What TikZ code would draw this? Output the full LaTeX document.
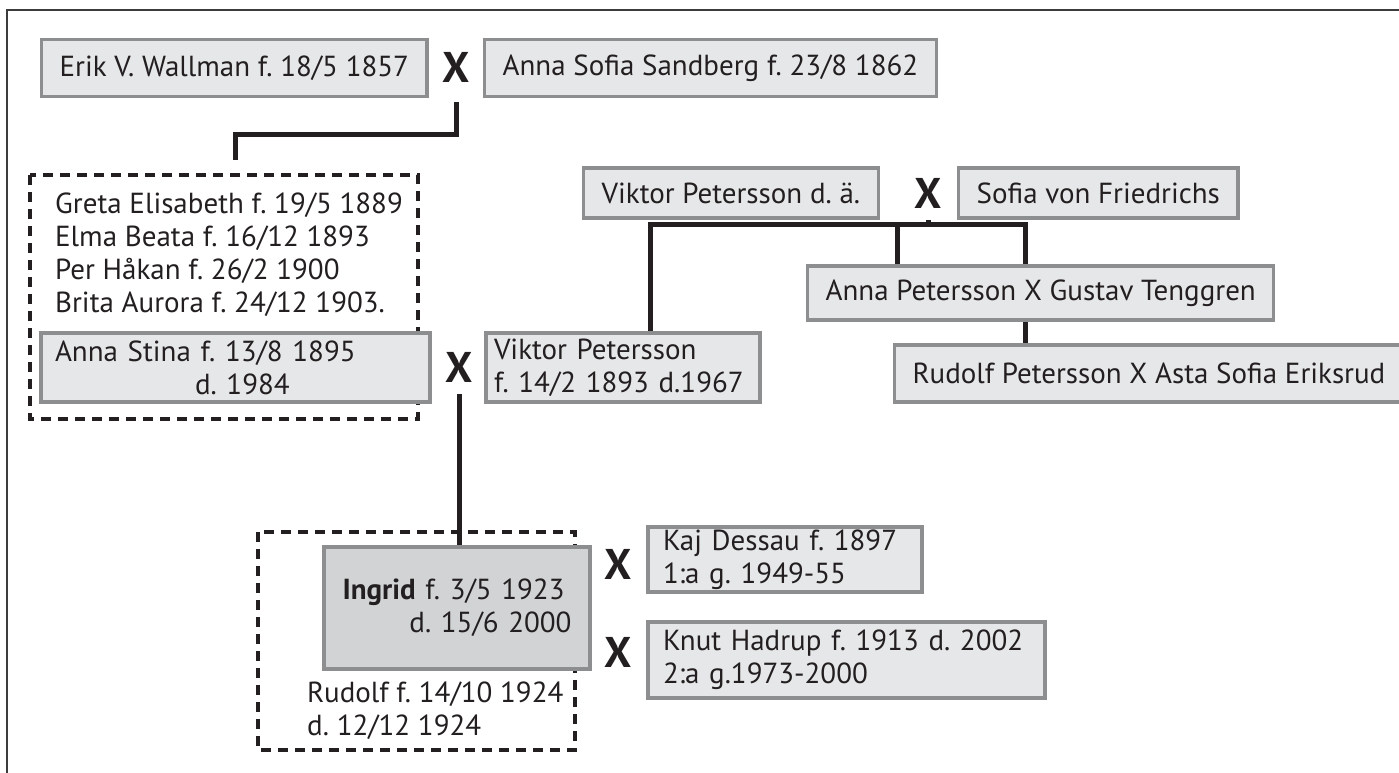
\documentclass[tikz,border=0pt]{standalone}
\usepackage{fontspec}
\setmainfont{PT Sans}
\usetikzlibrary{positioning}

\definecolor{boxfill}{HTML}{E6E7E8}
\definecolor{boxline}{HTML}{8C8E90}
\definecolor{selfill}{HTML}{D1D3D4}
\definecolor{ink}{HTML}{231F20}
\definecolor{framegray}{HTML}{3C3C3C}

\newcommand\namefont{\fontsize{29}{33}\selectfont\frenchspacing}
\newcommand\marryfont{\fontsize{43}{43}\selectfont\bfseries}

\begin{document}
\begin{tikzpicture}[x=1pt, y=-1pt,
        person/.style={draw=boxline, fill=boxfill, line width=3.3pt, inner xsep=18pt, inner ysep=0pt,
            font=\namefont, text=ink},
        marry/.style={font=\marryfont, text=ink, inner xsep=0pt, inner ysep=12pt},
        link/.style={draw=ink, line width=5pt},
        group/.style={draw=ink, line width=3.3pt, dash pattern=on 10pt off 7pt},
        kids/.style={font=\namefont, text=ink, align=left, anchor=north west, inner sep=0pt}
    ]
        \useasboundingbox (0,0) rectangle (1399,773);

        % frame (only top and left edge)
        \draw[framegray, line width=2pt] (1399,10) -- (7,10) -- (7,773);

        % Wallman couple
        \node[person, anchor=west, minimum height=57] (erik) at (40,68) {Erik V. Wallman f. 18/5 1857};
        \node[marry] (x1) at (456,67) {X};
        \node[person, anchor=west, minimum height=57] (annasofia) at (483,68) {Anna Sofia Sandberg f. 23/8 1862};

        % their children
        \draw[group] (30,175) rectangle (418,419);
        \node[kids] (greta) at (55,193) {Greta Elisabeth f. 19/5 1889\\Elma Beata f. 16/12 1893\\Per Håkan f. 26/2 1900\\Brita Aurora f. 24/12 1903.};
        \node[person, inner xsep=0pt, minimum width=389, minimum height=69, align=left, text width=361] (annastina) at (235.5,367.5)
            {Anna Stina f. 13/8 1895\\\hspace*{140pt}d. 1984};
        \coordinate (kids1) at (235,160);
        \draw[link] ([yshift=-8pt]x1.south) -- (x1.south |- 0,134) -| (kids1);

        % Petersson couple
        \node[person, anchor=west, minimum height=50] (viktorda) at (582,193) {Viktor Petersson d. ä.};
        \node[marry] (x3) at (928,193) {X};
        \node[person, anchor=west, minimum height=50] (sofia) at (957,193) {Sofia von Friedrichs};

        % their children
        \node[person, inner xsep=0pt, minimum width=274, minimum height=69, align=left, text width=258] (viktor) at (623,367.5)
            {Viktor Petersson\\f. 14/2 1893 d.1967};
        \node[person, anchor=west, minimum height=54] (annap) at (806,293) {Anna Petersson X Gustav Tenggren};
        \node[person, anchor=west, minimum height=57] (rudolfp) at (893,373.5) {Rudolf Petersson X Asta Sofia Eriksrud};
        \coordinate (bar3) at (928,224);
        \draw[link] (x3.south) -- (bar3);
        \draw[link] ([xshift=27pt]viktor.north) |- (bar3);
        \draw[link] (annap.north west -| 897,0) |- (bar3);
        \draw[link] (annap.north west -| 1025,0) |- (bar3);
        \draw[link] (annap.south west -| 1025,0) -- (rudolfp.north west -| 1025,0);

        % Anna Stina X Viktor
        \node[marry] (x2) at (459,367) {X};

        % their children
        \draw[group] (258,532) rectangle (575,750);
        \node[person, inner xsep=0pt, fill=selfill, minimum width=266, minimum height=122, align=left, text width=229] (ingrid) at (457,608)
            {\textbf{Ingrid} f. 3/5 1923\\\hspace*{\fill}d. 15/6 2000};
        \node[kids] (rudolf) at (307,682) {Rudolf f. 14/10 1924\\d. 12/12 1924};
        \draw[link] (x2.south) -- (x2.south |- ingrid.north);

        % Ingrid's marriages
        \node[marry] (x4) at (618,564) {X};
        \node[person, inner xsep=0pt, minimum width=274, minimum height=65, align=left, text width=244] (kaj) at (785,559.5)
            {Kaj Dessau f. 1897\\1:a g. 1949-55};
        \node[marry] (x5) at (618,652) {X};
        \node[person, inner xsep=0pt, minimum width=397, minimum height=76, align=left, text width=367] (knut) at (846.5,660)
            {Knut Hadrup f. 1913 d. 2002\\2:a g.1973-2000};

    \end{tikzpicture}
\end{document}
